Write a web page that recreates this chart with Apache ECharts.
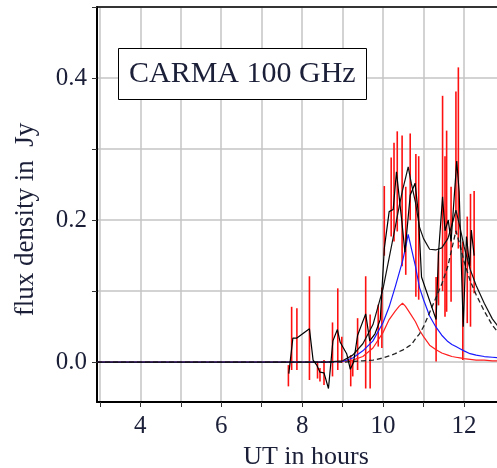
<!DOCTYPE html>
<html><head><meta charset="utf-8">
<script src="https://cdn.jsdelivr.net/npm/echarts@6/dist/echarts.min.js"></script>
<style>html,body{margin:0;padding:0;background:#fff}#c{width:497px;height:468px}</style>
</head><body><div id="c"></div>
<script>
// ---- model curves (UT hours, flux density Jy) ----
const modelT      = [2.93, 8.6, 9.0, 9.25, 9.5, 9.75, 10.0, 10.15, 10.3, 10.4, 10.48, 10.55, 10.62, 10.7, 10.8, 10.9, 11.0, 11.15, 11.3, 11.45, 11.6, 11.7, 11.8, 11.9, 12.0, 12.15, 12.3, 12.5, 12.7, 12.9];
const modelBlue   = [0, 0, 0.001, 0.006, 0.016, 0.030, 0.056, 0.078, 0.106, 0.126, 0.142, 0.160, 0.180, 0.160, 0.135, 0.105, 0.088, 0.065, 0.050, 0.038, 0.029, 0.025, 0.022, 0.019, 0.016, 0.012, 0.010, 0.008, 0.007, 0.006];
const modelRed    = [0, 0, 0.001, 0.003, 0.008, 0.020, 0.042, 0.060, 0.072, 0.079, 0.083, 0.079, 0.073, 0.066, 0.057, 0.045, 0.036, 0.024, 0.018, 0.013, 0.010, 0.008, 0.007, 0.006, 0.005, 0.004, 0.003, 0.003, 0.002, 0.002];
const modelDashed = [0, 0, 0, 0.001, 0.002, 0.003, 0.006, 0.009, 0.012, 0.015, 0.017, 0.019, 0.022, 0.025, 0.033, 0.040, 0.050, 0.070, 0.090, 0.110, 0.135, 0.160, 0.185, 0.165, 0.142, 0.115, 0.095, 0.072, 0.052, 0.038];
const modelSum    = [0, 0, 0.002, 0.010, 0.026, 0.053, 0.104, 0.147, 0.190, 0.220, 0.242, 0.258, 0.275, 0.251, 0.225, 0.190, 0.174, 0.159, 0.158, 0.161, 0.174, 0.193, 0.214, 0.190, 0.163, 0.131, 0.108, 0.083, 0.061, 0.046];

// ---- measured light curve (black jagged line) ----
const dataT = [7.67, 7.77, 7.87, 8.18, 8.27, 8.36, 8.44, 8.54, 8.65, 8.76, 8.87, 8.94, 9.02, 9.10, 9.19, 9.27, 9.37, 9.57, 9.67, 9.80, 9.93, 10.03, 10.15, 10.25, 10.33, 10.46, 10.54, 10.67, 10.79, 10.87, 10.95, 11.31, 11.37, 11.47, 11.53, 11.61, 11.68, 11.82, 11.88, 11.98, 12.06, 12.14, 12.18, 12.25];
const dataV = [-0.016, 0.034, 0.034, 0.047, 0.003, -0.004, -0.014, -0.015, -0.037, 0.030, 0.046, 0.028, 0.020, 0.012, -0.010, 0.000, 0.038, 0.068, 0.030, 0.040, 0.060, 0.160, 0.212, 0.215, 0.268, 0.200, 0.155, 0.235, 0.252, 0.210, 0.120, 0.060, 0.154, 0.233, 0.185, 0.200, 0.170, 0.283, 0.240, 0.050, 0.177, 0.135, 0.186, 0.150];

// ---- error bars (red) ----
const errT  = [7.66, 7.74, 7.87, 8.18, 8.38, 8.44, 8.54, 8.75, 8.88, 8.98, 9.20, 9.25, 9.37, 9.57, 9.68, 9.88, 9.97, 10.03, 10.20, 10.27, 10.35, 10.47, 10.56, 10.67, 10.81, 10.88, 11.31, 11.37, 11.47, 11.53, 11.57, 11.68, 11.80, 11.86, 11.97, 12.08, 12.16, 12.25];
const errLo = [-0.034, -0.011, -0.011, -0.025, -0.023, -0.027, -0.032, -0.020, -0.011, -0.001, -0.034, -0.020, -0.011, -0.037, -0.037, 0.022, 0.020, 0.150, 0.177, 0.170, 0.184, 0.135, 0.123, 0.200, 0.092, 0.088, 0.001, 0.080, 0.100, 0.064, 0.071, 0.085, 0.180, 0.160, 0.003, 0.055, 0.050, 0.097];
const errHi = [-0.004, 0.078, 0.076, 0.121, 0.001, -0.008, 0.003, 0.056, 0.104, 0.036, 0.010, 0.003, 0.062, 0.121, 0.067, 0.081, 0.105, 0.248, 0.288, 0.309, 0.325, 0.319, 0.247, 0.322, 0.293, 0.290, 0.120, 0.156, 0.375, 0.290, 0.326, 0.247, 0.381, 0.415, 0.170, 0.205, 0.237, 0.241];

// ---- ticks / texts ----
const xTicks = [3, 4, 5, 6, 7, 8, 9, 10, 11, 12];
const yTicks = [0.0, 0.1, 0.2, 0.3, 0.4, 0.5];
const xTickLabels = [4, 6, 8, 10, 12];
const yTickLabels = [0.0, 0.2, 0.4];
const boxText = 'CARMA 100 GHz';
const xName = 'UT in hours';
const yName = 'flux density in  Jy';

const FONT = 'Liberation Serif';
const TXT = '#1b1f38';

function pairs(xs, ys) { return xs.map((x, i) => [x, ys[i]]); }
function hasTick(list, v) { return list.some(t => Math.abs(t - v) < 1e-6); }

const chart = echarts.init(document.getElementById('c'), null, {renderer: 'canvas'});
chart.setOption({
  animation: false,
  backgroundColor: '#fff',
  grid: {left: 97, right: 0, top: 7, bottom: 66, containLabel: false, outerBoundsMode: 'none'},
  title: {
    text: boxText, left: 118, top: 48,
    padding: [11, 11, 11, 11],
    borderColor: '#000', borderWidth: 1, backgroundColor: '#fff',
    textStyle: {fontFamily: FONT, fontSize: 30, fontWeight: 'normal', color: TXT}
  },
  xAxis: [{
    type: 'value', min: 2.93, max: 12.815,
    name: xName, nameLocation: 'middle', nameGap: 39,
    nameTextStyle: {fontFamily: FONT, fontSize: 26, color: TXT, padding: [0, 0, 0, 18]},
    axisLine: {show: true, onZero: false, lineStyle: {color: '#000', width: 2}},
    axisTick: {show: true, length: 5, customValues: xTicks, lineStyle: {color: '#333', width: 1}},
    axisLabel: {margin: 12, fontFamily: FONT, fontSize: 25, color: TXT, customValues: xTickLabels,
      formatter: v => hasTick(xTickLabels, v) ? String(Math.round(v)) : ''},
    splitLine: {show: true, lineStyle: {color: '#c4c4c4', width: 1.5}}
  }, {
    type: 'value', position: 'top', min: 2.93, max: 12.815,
    axisLine: {show: true, onZero: false, lineStyle: {color: '#000', width: 1.5}},
    axisTick: {show: false}, axisLabel: {show: false}, splitLine: {show: false}
  }],
  yAxis: {
    type: 'value', min: -0.056, max: 0.5,
    name: yName, nameLocation: 'middle', nameGap: 58, nameRotate: 90,
    nameTextStyle: {fontFamily: FONT, fontSize: 27, color: TXT, padding: [0, 30, 0, 0]},
    axisLine: {show: true, onZero: false, lineStyle: {color: '#000', width: 2}},
    axisTick: {show: true, length: 5, customValues: yTicks, lineStyle: {color: '#333', width: 1}},
    axisLabel: {margin: 10, fontFamily: FONT, fontSize: 25, color: TXT, customValues: yTickLabels,
      formatter: v => hasTick(yTickLabels, v) ? v.toFixed(1) : ''},
    splitLine: {show: true, lineStyle: {color: '#c4c4c4', width: 1.5}}
  },
  series: [
    {
      type: 'custom', name: 'errors', z: 2,
      data: errT.map((t, i) => [t, errLo[i], errHi[i]]),
      encode: {x: 0, y: [1, 2]},
      renderItem: function (params, api) {
        const p1 = api.coord([api.value(0), api.value(1)]);
        const p2 = api.coord([api.value(0), api.value(2)]);
        return {type: 'line', shape: {x1: p1[0], y1: p1[1], x2: p2[0], y2: p2[1]},
          style: {stroke: '#ff1010', lineWidth: 1.6}};
      }
    },
    {type: 'line', name: 'red model', z: 3, data: pairs(modelT, modelRed), symbol: 'none',
      lineStyle: {color: '#ff2020', width: 1.2}},
    {type: 'line', name: 'blue model', z: 3, data: pairs(modelT, modelBlue), symbol: 'none',
      lineStyle: {color: '#1a1aff', width: 1.2}},
    {type: 'line', name: 'dashed model', z: 3, data: pairs(modelT, modelDashed), symbol: 'none',
      lineStyle: {color: '#222', width: 1.3, type: [5, 3]}},
    {type: 'line', name: 'sum', z: 4, data: pairs(modelT, modelSum), symbol: 'none',
      lineStyle: {color: '#111', width: 1.2}},
    {type: 'line', name: 'data', z: 5, data: pairs(dataT, dataV), symbol: 'none',
      lineStyle: {color: '#000', width: 1.2}}
  ]
});
</script>
</body></html>
